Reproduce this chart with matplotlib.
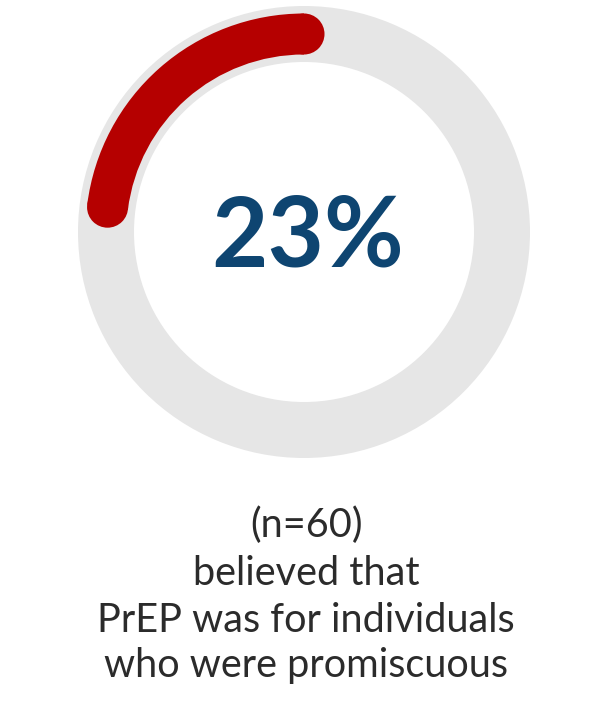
import matplotlib
matplotlib.use("Agg")
import matplotlib.pyplot as plt
from matplotlib.patches import Wedge, Circle
import numpy as np

# Data
percent_value = 23
sample_size = 60
label_lines = ["believed that", "PrEP was for individuals", "who were promiscuous"]

W, H = 612, 712
fig = plt.figure(figsize=(W / 100, H / 100), dpi=100)
ax = fig.add_axes([0, 0, 1, 1])
ax.set_xlim(0, W)
ax.set_ylim(H, 0)
ax.set_aspect("equal")
ax.axis("off")

cx, cy = 304, 232
r_mid = 198
track_w = 56
arc_w = 41

# gray track
ax.add_patch(Wedge((cx, cy), r_mid + track_w / 2, 0, 360, width=track_w,
                   facecolor="#e6e6e6", edgecolor="none"))

# red arc (counterclockwise from top); y axis inverted -> use negative angles
frac = percent_value / 100.0
start_deg = 90
end_deg = 90 + 360 * frac
ax.add_patch(Wedge((cx, cy), r_mid + arc_w / 2, -end_deg, -start_deg, width=arc_w,
                   facecolor="#b50000", edgecolor="none"))
for a in (start_deg, end_deg):
    t = np.deg2rad(a)
    ax.add_patch(Circle((cx + r_mid * np.cos(t), cy - r_mid * np.sin(t)), arc_w / 2,
                        facecolor="#b50000", edgecolor="none"))

ax.text(cx + 4, 238, f"{percent_value}%", ha="center", va="center",
        fontsize=70, fontweight="bold", family="Lato", color="#0e4571")

lines = [f"(n={sample_size})"] + label_lines
baselines = [537, 585, 632, 677]
for txt, yb in zip(lines, baselines):
    ax.text(306, yb, txt, ha="center", va="baseline", fontsize=28.5,
            family="Lato", color="#2b2b2b")

fig.savefig("out.png", dpi=100)
